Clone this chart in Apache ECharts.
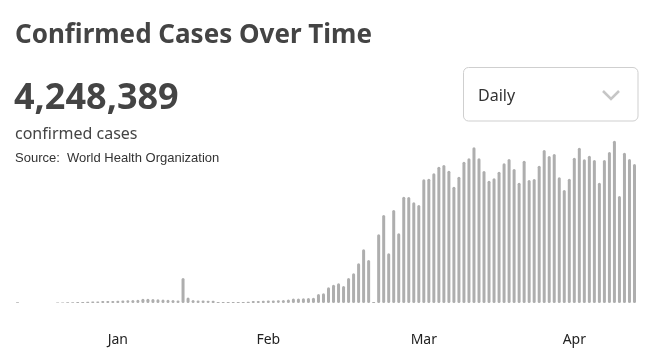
<!DOCTYPE html>
<html>
<head>
<meta charset="utf-8">
<script src="https://cdn.jsdelivr.net/npm/echarts@6/dist/echarts.min.js"></script>
<style>
  html, body { margin: 0; padding: 0; background: #fff; }
  #chart { width: 653px; height: 357px; }
</style>
</head>
<body>
<div id="chart"></div>
<script>
// Daily confirmed cases, one bar per day starting 2020-01-11
const startDate = '2020-01-11';
const dailyCases = [
  390, 0, 0, 0, 0, 0, 0, 0, 340, 340,
  390, 450, 510, 560, 670, 790, 900, 1120, 1130, 1180,
  1240, 1350, 1570, 1690, 1850, 2360, 2420, 2250, 2140, 2020,
  1850, 1690, 1460, 14050, 3150, 1690, 1460, 1350, 1290, 1240,
  560, 510, 560, 510, 560, 620, 670, 1120, 1180, 1240,
  1350, 1460, 1570, 1690, 1910, 2590, 2590, 2700, 2810, 2920,
  5060, 5450, 8820, 10280, 11070, 9550, 14050, 16690, 22310, 30180,
  24170, 560, 38610, 49460, 27930, 52270, 39170, 59740, 59500, 56590,
  55080, 69520, 69860, 72890, 76600, 77560, 74350, 65360, 70980, 79410,
  81320, 87500, 81320, 74180, 68730, 70080, 73790, 78510, 80930, 75310,
  67610, 79970, 69130, 69690, 77160, 85990, 82610, 83740, 70640, 63510,
  69860, 81660, 87280, 80760, 82780, 80370, 67610, 80370, 84860, 91210,
  60130, 84470, 80930, 78120
];
const tickDates = ['2020-01-31', '2020-03-01', '2020-04-01', '2020-05-01'];
const tickLabels = ['Jan', 'Feb', 'Mar', 'Apr'];
const totalLabel = '4,248,389';

function pad(n) { return n < 10 ? '0' + n : '' + n; }
const categories = [];
(function () {
  const d = new Date(startDate + 'T00:00:00Z');
  for (let i = 0; i < dailyCases.length; i++) {
    const c = new Date(d.getTime() + i * 86400000);
    categories.push(c.getUTCFullYear() + '-' + pad(c.getUTCMonth() + 1) + '-' + pad(c.getUTCDate()));
  }
})();

const chart = echarts.init(document.getElementById('chart'), null, { renderer: 'canvas' });
const sans = '"Noto Sans", "Open Sans", sans-serif';
chart.setOption({
  animation: false,
  backgroundColor: '#fff',
  grid: { left: 15, right: 16, top: 125, bottom: 54, containLabel: false },
  xAxis: {
    type: 'category',
    data: categories,
    boundaryGap: true,
    axisLine: { show: false },
    axisTick: { show: false },
    axisLabel: {
      margin: 30,
      fontFamily: sans,
      fontSize: 14,
      color: '#222',
      interval: function (idx, value) { return tickDates.indexOf(value) >= 0; },
      formatter: function (value) { return tickLabels[tickDates.indexOf(value)]; }
    }
  },
  yAxis: { type: 'value', min: 0, max: 100000, show: false, splitLine: { show: false } },
  series: [{
    type: 'bar',
    data: dailyCases,
    barWidth: 3,
    silent: true,
    itemStyle: { color: '#aeaeae', borderRadius: 1.5 }
  }],
  graphic: [
    { type: 'text', left: 15, top: 23, style: { text: 'Confirmed Cases Over Time', font: 'bold 26px ' + sans, fill: '#444' } },
    { type: 'text', left: 14, top: 81, style: { text: totalLabel, font: 'bold 36px ' + sans, fill: '#444' } },
    { type: 'text', left: 15, top: 126, style: { text: 'confirmed cases', font: '16px ' + sans, fill: '#444' } },
    { type: 'text', left: 15, top: 152, style: { text: 'Source:  World Health Organization', font: '13px "Liberation Sans", Arial, sans-serif', fill: '#333' } },
    { type: 'rect', shape: { x: 463.5, y: 67.5, width: 174.5, height: 53.5, r: 5 }, style: { fill: '#fff', stroke: '#cfcfcf', lineWidth: 1 } },
    { type: 'text', left: 478, top: 88, style: { text: 'Daily', font: '16px ' + sans, fill: '#333' } },
    { type: 'polyline', shape: { points: [[603, 91], [611, 99], [619, 91]] }, style: { stroke: '#c6c6c6', lineWidth: 2.5, fill: null } }
  ]
});
</script>
</body>
</html>
